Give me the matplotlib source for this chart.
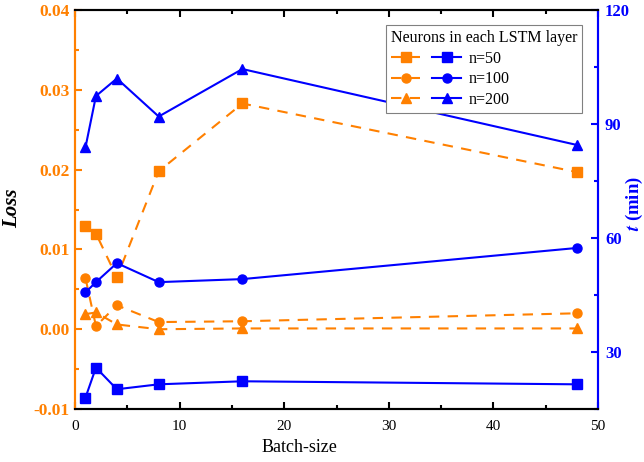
import numpy as np
import matplotlib.pyplot as plt
from matplotlib.legend_handler import HandlerTuple
from matplotlib.ticker import MultipleLocator, FormatStrFormatter

plt.rcParams['font.family'] = ['Liberation Serif', 'DejaVu Serif']
plt.rcParams['mathtext.fontset'] = 'stix'
plt.rcParams['axes.unicode_minus'] = False

batch = [1, 2, 4, 8, 16, 48]
labels = ['n=50', 'n=100', 'n=200']
markers = ['s', 'o', '^']

# Loss for each LSTM width
loss_50 = [0.0129, 0.0120, 0.0065, 0.0198, 0.0283, 0.0197]
loss_100 = [0.0064, 0.0004, 0.0030, 0.0009, 0.0010, 0.0020]
loss_200 = [0.0019, 0.0021, 0.0006, 0.0000, 0.0001, 0.0001]

# Training time (min)
time_50 = [18.0, 25.9, 20.2, 21.5, 22.3, 21.5]
time_100 = [45.7, 48.4, 53.4, 48.4, 49.2, 57.4]
time_200 = [83.9, 97.4, 102.0, 92.0, 104.5, 84.5]

orange = '#FF8000'
blue = '#0000FF'

fig, ax = plt.subplots(figsize=(6.44, 4.62), dpi=100)
fig.subplots_adjust(left=0.1165, right=0.9286, bottom=0.1147, top=0.978)
ax2 = ax.twinx()

loss_lines = []
for vals, m in zip([loss_50, loss_100, loss_200], markers):
    ln, = ax.plot(batch, vals, color=orange, ls=(0, (5, 4)), lw=1.5,
                  marker=m, ms=6.5, mec=orange, mfc=orange)
    loss_lines.append(ln)

time_lines = []
for vals, m in zip([time_50, time_100, time_200], markers):
    ln, = ax2.plot(batch, vals, color=blue, ls='-', lw=1.5,
                   marker=m, ms=6.5, mec=blue, mfc=blue)
    time_lines.append(ln)

ax.set_xlim(0, 50)
ax.set_ylim(-0.01, 0.04)
ax2.set_ylim(15, 120)

ax.xaxis.set_major_locator(MultipleLocator(10))
ax.xaxis.set_minor_locator(MultipleLocator(5))
ax.yaxis.set_major_locator(MultipleLocator(0.01))
ax.yaxis.set_minor_locator(MultipleLocator(0.005))
ax.yaxis.set_major_formatter(FormatStrFormatter('%.2f'))
ax2.yaxis.set_major_locator(MultipleLocator(30))
ax2.yaxis.set_minor_locator(MultipleLocator(15))

# spines coloured by the axis they belong to
for a in (ax, ax2):
    for s in a.spines.values():
        s.set_linewidth(1.5)
ax.spines['left'].set_color(orange)
ax2.spines['left'].set_color(orange)
ax.spines['right'].set_color(blue)
ax2.spines['right'].set_color(blue)

ax.tick_params(axis='x', which='both', direction='in', top=True, width=1.5,
               labelsize=11, colors='black', pad=8)
ax.tick_params(axis='x', which='major', length=5)
ax.tick_params(axis='x', which='minor', length=3)
ax.tick_params(axis='y', which='both', direction='in', width=1.5,
               colors=orange, labelsize=12.5, pad=4)
ax.tick_params(axis='y', which='major', length=5)
ax.tick_params(axis='y', which='minor', length=3)
ax2.tick_params(axis='y', which='both', direction='in', width=1.5,
                colors=blue, labelsize=12, pad=5)
ax2.tick_params(axis='y', which='major', length=5)
ax2.tick_params(axis='y', which='minor', length=3)
for t in ax.get_yticklabels() + ax2.get_yticklabels():
    t.set_fontweight('bold')

ax.set_xlabel('Batch-size', fontsize=13)
ax.xaxis.set_label_coords(0.43, -0.075)
ax.set_ylabel('Loss', fontsize=15, fontweight='bold', fontstyle='italic')
ax.yaxis.set_label_coords(-0.101, 0.504)
ax2.set_ylabel(r'$\mathbfit{t}$ (min)', fontsize=13.5, fontweight='bold',
               color=blue, rotation=90, va='center')
ax2.yaxis.set_label_coords(1.0695, 0.514)

handles = [(lo, ti) for lo, ti in zip(loss_lines, time_lines)]
leg = ax2.legend(handles, labels, title='Neurons in each LSTM layer',
                 handler_map={tuple: HandlerTuple(ndivide=None, pad=0.75)},
                 loc='upper right', bbox_to_anchor=(0.97, 0.963),
                 fontsize=11.5, title_fontsize=11.5, handlelength=4.4,
                 handletextpad=0.45, labelspacing=0.3, borderpad=0.3,
                 fancybox=False, framealpha=1, edgecolor='gray',
                 borderaxespad=0)
leg.get_frame().set_linewidth(0.8)
leg._legend_box.align = 'left'

fig.savefig('out.png', dpi=100)
